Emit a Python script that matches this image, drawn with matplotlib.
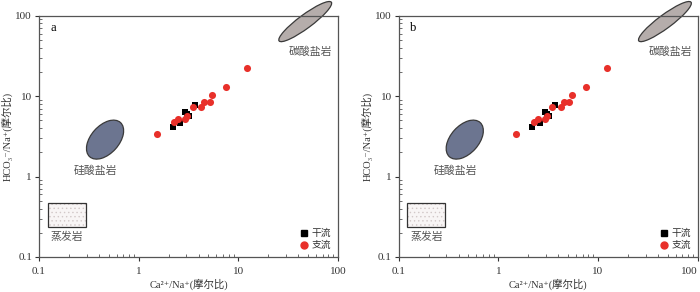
import numpy as np
import matplotlib
matplotlib.use("Agg")
import matplotlib.pyplot as plt
from matplotlib.patches import Ellipse, Rectangle
from matplotlib.transforms import Affine2D
from matplotlib.lines import Line2D

plt.rcParams['font.family'] = ['Liberation Serif', 'DejaVu Serif', 'Noto Sans CJK SC']
plt.rcParams['hatch.linewidth'] = 0.5

# --- data (Ca/Na vs HCO3/Na, molar ratio) ---
main_x = [2.20, 2.61, 2.92, 3.05, 3.23, 3.68]   # 干流
main_y = [4.16, 4.58, 6.29, 6.00, 5.70, 7.74]
trib_x = [1.52, 2.27, 2.50, 2.92, 3.08, 3.49, 4.23, 4.53, 5.17, 5.46, 7.49, 12.2]   # 支流
trib_y = [3.40, 4.72, 5.19, 5.19, 5.65, 7.38, 7.31, 8.44, 8.44, 10.4, 12.9, 22.2]

panels = ["a", "b"]
ticks = [0.1, 1, 10, 100]
tick_labels = ["0.1", "1", "10", "100"]

EDGE = "#3a3a3a"
RED = "#e8302a"
GRAY_TXT = "#555555"


def region(ax, cx, cy, a, b, ang, fc):
    # ellipse given by centre in data units, half-axes in pixels
    bb = ax.get_window_extent()
    w, h = bb.width, bb.height
    px = (np.log10(cx) + 1) / 3 * w
    py = (np.log10(cy) + 1) / 3 * h
    tr = Affine2D().scale(1 / w, 1 / h) + ax.transAxes
    e = Ellipse((px, py), 2 * a, 2 * b, angle=ang, transform=tr,
                facecolor=fc, edgecolor=EDGE, lw=0.9, clip_on=False, zorder=2)
    ax.add_patch(e)


fig = plt.figure(figsize=(7, 2.92), dpi=100)
lefts = [39 / 700, 398.7 / 700]
for name, left in zip(panels, lefts):
    ax = fig.add_axes([left, 35 / 292, 299 / 700, 241.3 / 292])
    ax.set_xscale("log")
    ax.set_yscale("log")
    ax.set_xlim(0.1, 100)
    ax.set_ylim(0.1, 100)
    ax.set_xticks(ticks)
    ax.set_xticklabels(tick_labels)
    ax.set_yticks(ticks)
    ax.set_yticklabels(tick_labels)
    ax.tick_params(which="major", direction="out", length=3, width=0.8,
                   labelsize=8, colors="#333333", pad=2)
    ax.tick_params(which="minor", direction="in", length=2, width=0.6, colors="#555555")
    ax.tick_params(axis="x", pad=4)
    for s in ax.spines.values():
        s.set_color("#555555")
        s.set_linewidth(0.9)
    if name == "b":
        ax.get_xticklabels()[-1].set_horizontalalignment("right")

    # source rock regions
    region(ax, 46.9, 84.5, 32.5, 6.8, 36.5, "#b5adab")
    region(ax, 0.46, 2.88, 23, 14, 48, "#6c7590")
    evap = (0.122, 0.234, 0.294 - 0.122, 0.475 - 0.234)
    ax.add_patch(Rectangle(evap[:2], evap[2], evap[3], facecolor="#f8f5f5",
                           edgecolor="#d2c8c8", lw=0, hatch="....", zorder=2))
    ax.add_patch(Rectangle(evap[:2], evap[2], evap[3], facecolor="none",
                           edgecolor="#333333", lw=0.9, zorder=2))

    ax.text(52.6, 35.7, "碳酸盐岩", ha="center", va="center", fontsize=7.8, color=GRAY_TXT)
    ax.text(0.37, 1.19, "硅酸盐岩", ha="center", va="center", fontsize=7.8, color=GRAY_TXT)
    ax.text(0.19, 0.178, "蒸发岩", ha="center", va="center", fontsize=7.8, color=GRAY_TXT)

    ax.scatter(main_x, main_y, marker="s", s=22, color="black", zorder=3, linewidths=0)
    ax.scatter(trib_x, trib_y, marker="o", s=26, color=RED, zorder=4, linewidths=0)

    ax.text(0.037, 0.95, name, transform=ax.transAxes, fontsize=9, va="center")

    handles = [Line2D([], [], marker="s", ls="", color="black", markersize=4.5),
               Line2D([], [], marker="o", ls="", color=RED, markersize=5)]
    ax.legend(handles, ["干流", "支流"], loc="lower right", frameon=False,
              fontsize=7, handletextpad=0.2, handlelength=1.2, borderaxespad=0.3,
              labelspacing=0.3, labelcolor="#333333")

    ax.set_xlabel("Ca²⁺/Na⁺(摩尔比)", fontsize=7.5, color="#333333", labelpad=2)
    ax.set_ylabel("HCO₃⁻/Na⁺(摩尔比)", fontsize=7.5, color="#333333", labelpad=2)

fig.savefig("out.png", dpi=100)
